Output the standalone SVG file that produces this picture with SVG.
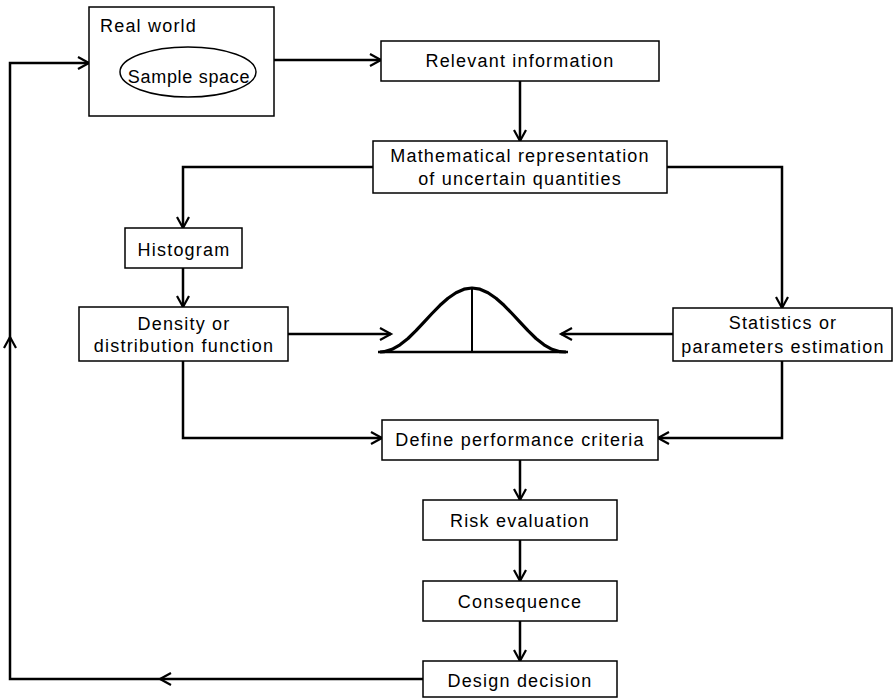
<svg xmlns="http://www.w3.org/2000/svg" width="895" height="699" viewBox="0 0 895 699">
<style>
.box{fill:#fff;stroke:#000;stroke-width:1.5}
.t{font-family:"Liberation Sans",Arial,sans-serif;font-size:18px;letter-spacing:1.2px;fill:#000}
.c{text-anchor:middle}
.ln{fill:none;stroke:#000;stroke-width:2.5;marker-end:url(#ah)}
.pl{fill:none;stroke:#000;stroke-width:3.2}
</style>
<defs>
<marker id="ah" markerUnits="userSpaceOnUse" markerWidth="16" markerHeight="16" viewBox="-12 -8 14 16" refX="0" refY="0" orient="auto">
<path d="M-11,-6 L0,0 L-11,6" fill="none" stroke="#000" stroke-width="2.2" stroke-linejoin="miter"/>
</marker>
</defs>
<rect width="895" height="699" fill="#fff"/>
<g id="connectors">
<path class="ln" d="M274,60 H381"/>
<path class="ln" d="M520,81 V141"/>
<path class="ln" d="M373,167 H183 V228"/>
<path class="ln" d="M667,167 H782 V308"/>
<path class="ln" d="M183,268 V307"/>
<path class="ln" d="M288,334 H391"/>
<path class="ln" d="M673,334 H561"/>
<path class="ln" d="M183,361 V438 H382"/>
<path class="ln" d="M782,361 V438 H658"/>
<path class="ln" d="M520,460 V500"/>
<path class="ln" d="M520,540 V581"/>
<path class="ln" d="M520,621 V661"/>
<path class="ln" d="M423,679 H160"/>
<path class="ln" d="M160,679 H10 V337"/>
<path class="ln" d="M10,337 V63 H89"/>
</g>
<g id="real-world">
<rect class="box" x="89" y="7" width="185" height="109"/>
<text class="t" x="100" y="32">Real world</text>
<ellipse cx="188" cy="72" rx="68" ry="25" fill="none" stroke="#000" stroke-width="1.5"/>
<text class="t c" x="189" y="83" style="letter-spacing:0.7px">Sample space</text>
</g>
<g id="relevant-information">
<rect class="box" x="381" y="41" width="278" height="40"/>
<text class="t c" x="520" y="67">Relevant information</text>
</g>
<g id="mathematical-representation">
<rect class="box" x="373" y="141" width="294" height="52"/>
<text class="t c" x="520" y="162">Mathematical representation</text>
<text class="t c" x="520" y="185">of uncertain quantities</text>
</g>
<g id="histogram">
<rect class="box" x="125" y="228" width="117" height="40"/>
<text class="t c" x="184" y="256">Histogram</text>
</g>
<g id="density">
<rect class="box" x="79" y="307" width="209" height="54"/>
<text class="t c" x="184" y="330">Density or</text>
<text class="t c" x="184" y="352">distribution function</text>
</g>
<g id="bell-curve">
<polyline class="pl" stroke-linejoin="round" points="380,352 384,351.7 392,349.3 400,344.8 408,338.5 416,330.7 424,322.2 432,313.5 440,305.3 448,298.2 456,292.7 464,289.2 472,288 480,289.2 488,292.7 496,298.2 504,305.3 512,313.5 520,322.2 528,330.7 536,338.5 544,344.8 552,349.3 560,351.7 566,352"/>
<line x1="378" y1="352" x2="568" y2="352" stroke="#000" stroke-width="2.5"/>
<line x1="472" y1="288" x2="472" y2="352" stroke="#000" stroke-width="2"/>
</g>
<g id="statistics">
<rect class="box" x="673" y="308" width="219" height="53"/>
<text class="t c" x="783" y="329">Statistics or</text>
<text class="t c" x="783" y="353">parameters estimation</text>
</g>
<g id="define-performance">
<rect class="box" x="382" y="420" width="276" height="40"/>
<text class="t c" x="520" y="446">Define performance criteria</text>
</g>
<g id="risk-evaluation">
<rect class="box" x="423" y="500" width="194" height="40"/>
<text class="t c" x="520" y="527">Risk evaluation</text>
</g>
<g id="consequence">
<rect class="box" x="423" y="581" width="194" height="40"/>
<text class="t c" x="520" y="608">Consequence</text>
</g>
<g id="design-decision">
<rect class="box" x="423" y="661" width="194" height="36"/>
<text class="t c" x="520" y="687">Design decision</text>
</g>
</svg>
